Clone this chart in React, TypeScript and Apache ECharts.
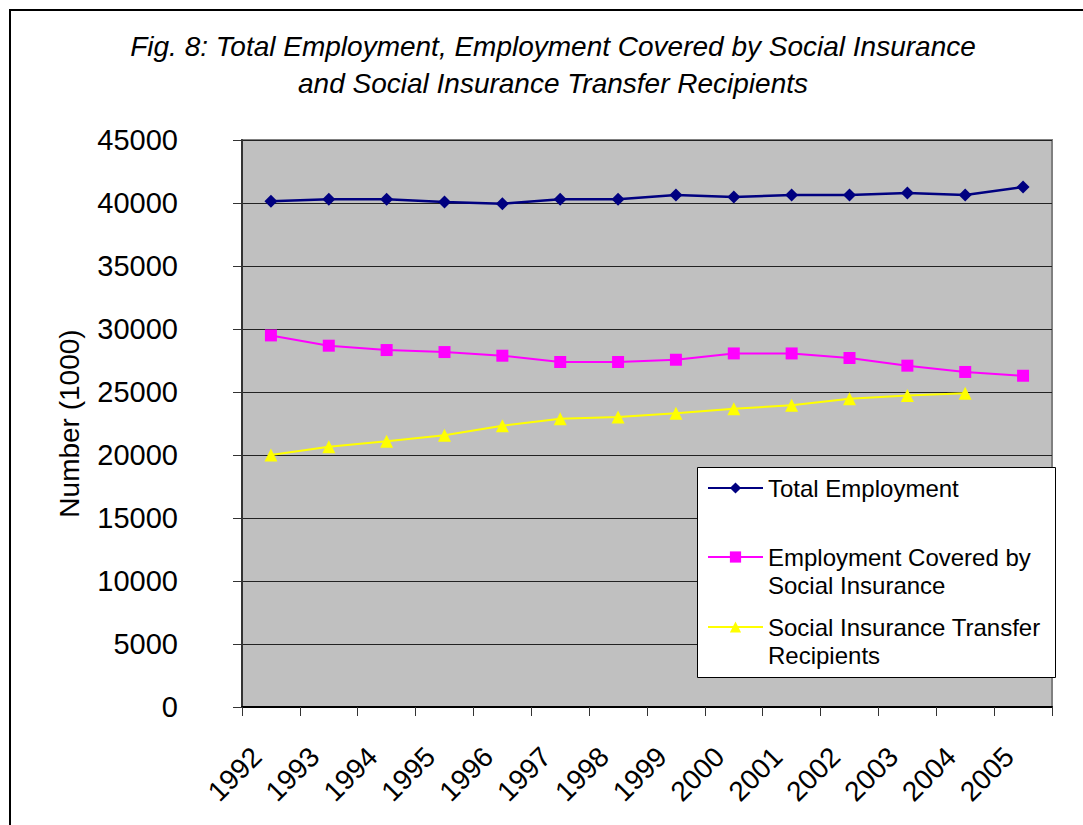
import React, { useEffect, useRef } from "react";
import * as echarts from "echarts";

const years = ["1992", "1993", "1994", "1995", "1996", "1997", "1998", "1999", "2000", "2001", "2002", "2003", "2004", "2005"];
const totalEmployment = [40135, 40290, 40290, 40080, 39950, 40290, 40290, 40635, 40475, 40635, 40635, 40795, 40635, 41270];
const coveredEmployment = [29490, 28675, 28330, 28170, 27880, 27380, 27380, 27560, 28060, 28060, 27700, 27090, 26590, 26290];
const transferRecipients = [20000, 20660, 21090, 21560, 22330, 22880, 23020, 23310, 23680, 23940, 24470, 24730, 24900, null];

const seriesNames = [
  "Total Employment",
  "Employment Covered by\nSocial Insurance",
  "Social Insurance Transfer\nRecipients",
];
const titleText = "Fig. 8: Total Employment, Employment Covered by Social Insurance\nand Social Insurance Transfer Recipients";
const yAxisName = "Number (1000)";

const FONT = 'Arial, "Liberation Sans", Helvetica, sans-serif';

export default function App() {
  const ref = useRef<HTMLDivElement>(null);
  useEffect(() => {
    if (!ref.current) return;
    const chart = echarts.init(ref.current, null, { renderer: "svg" });
    const legendText = {
      fontSize: 24,
      lineHeight: 28,
      color: "#000",
      fontFamily: FONT,
    };
    const mkLegend = (name: string, top: number, shiftDown: boolean) => ({
      data: [name],
      left: 707,
      top,
      padding: 0,
      itemWidth: 55,
      itemHeight: 14,
      textStyle: legendText,
      selectedMode: false,
      formatter: (n: string) => (shiftDown ? "\n" + n : n),
    });
    chart.setOption({
      animation: false,
      backgroundColor: "#fff",
      title: {
        text: titleText,
        left: 553,
        top: 28,
        padding: 0,
        textAlign: "center",
        textStyle: {
          fontSize: 28,
          fontStyle: "italic",
          fontWeight: "normal",
          lineHeight: 37,
          color: "#000",
          fontFamily: FONT,
        },
      },
      grid: {
        left: 242,
        top: 140,
        right: 31,
        bottom: 118,
        show: true,
        backgroundColor: "#C0C0C0",
        borderColor: "#808080",
        borderWidth: 2,
      },
      legend: [
        mkLegend(seriesNames[0], 474, false),
        mkLegend(seriesNames[1], 515, true),
        mkLegend(seriesNames[2], 585, true),
      ],
      graphic: [
        {
          type: "rect",
          silent: true,
          z: -10,
          shape: { x: 10, y: 10, width: 1200, height: 1000 },
          style: { fill: "none", stroke: "#000", lineWidth: 2 },
        },
        {
          type: "rect",
          silent: true,
          z: 3,
          shape: { x: 697.5, y: 467.5, width: 358, height: 210 },
          style: { fill: "#fff", stroke: "#000", lineWidth: 1 },
        },
      ],
      xAxis: {
        type: "category",
        data: years,
        boundaryGap: true,
        axisLine: { show: true, lineStyle: { color: "#000", width: 2 } },
        axisTick: { show: true, length: 9, interval: 0, lineStyle: { color: "#333", width: 1 } },
        axisLabel: {
          rotate: 45,
          interval: 0,
          fontSize: 28,
          margin: 31,
          padding: [0, 20, 0, 0],
          color: "#000",
          fontFamily: FONT,
        },
        splitLine: { show: false },
      },
      yAxis: {
        type: "value",
        min: 0,
        max: 45000,
        interval: 5000,
        name: yAxisName,
        nameLocation: "middle",
        nameGap: 159,
        nameTextStyle: { fontSize: 28, color: "#000", fontFamily: FONT },
        axisLine: { show: true, lineStyle: { color: "#333", width: 2 } },
        axisTick: { show: true, length: 9, lineStyle: { color: "#333", width: 1 } },
        axisLabel: {
          fontSize: 29,
          margin: 64,
          color: "#000",
          fontFamily: FONT,
          formatter: (v: number) => String(v),
        },
        splitLine: { show: true, lineStyle: { color: "#222", width: 1 } },
      },
      series: [
        {
          name: seriesNames[0],
          type: "line",
          data: totalEmployment,
          symbol: "diamond",
          symbolSize: 13,
          color: "#000080",
          itemStyle: { color: "#000080" },
          lineStyle: { color: "#000080", width: 2.5 },
        },
        {
          name: seriesNames[1],
          type: "line",
          data: coveredEmployment,
          symbol: "rect",
          symbolSize: 12,
          color: "#FF00FF",
          itemStyle: { color: "#FF00FF" },
          lineStyle: { color: "#FF00FF", width: 2 },
        },
        {
          name: seriesNames[2],
          type: "line",
          data: transferRecipients,
          symbol: "triangle",
          symbolSize: 13,
          color: "#FFFF00",
          itemStyle: { color: "#FFFF00" },
          lineStyle: { color: "#FFFF00", width: 2 },
        },
      ],
    });
    return () => chart.dispose();
  }, []);
  return (
    <div
      ref={ref}
      style={{ position: "absolute", left: 0, top: 0, width: 1083, height: 825 }}
    />
  );
}
